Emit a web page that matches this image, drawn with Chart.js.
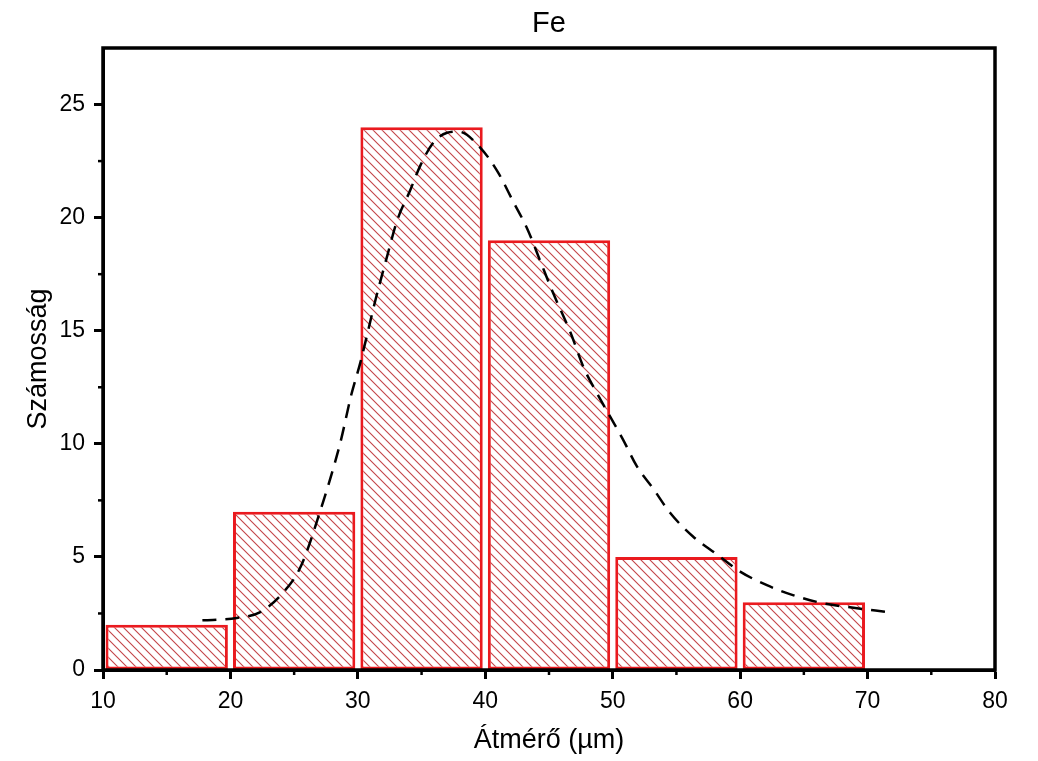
<!DOCTYPE html>
<html>
<head>
<meta charset="utf-8">
<script src="https://cdn.jsdelivr.net/npm/chart.js@4"></script>
<style>
    body { margin: 0; background: #fff; }
    #wrap { width: 1038px; height: 761px; position: relative; }
</style>
</head>
<body>
<div id="wrap"><canvas id="histChart"></canvas></div>
<script>
// Histogram bins (centres) and counts
const binCenters = [15, 25, 35, 45, 55, 65];
const counts = [2, 7, 24, 19, 5, 3];

// Fitted distribution curve
const fitX = [17.8, 19.0, 20.5, 22.3, 24.1, 25.5, 27.0, 28.6, 29.5, 30.2, 31.4, 32.3, 33.1, 34.1, 34.9, 35.9,
    37.0, 37.9, 39.6, 41.0, 42.2, 43.3, 44.3, 45.3, 46.7, 47.7, 48.8, 49.8, 50.8, 51.9, 53.2, 54.5,
    56.3, 58.2, 60.0, 62.1, 64.2, 66.5, 68.9, 71.5];
const fitY = [2.2, 2.22, 2.3, 2.55, 3.4, 4.55, 6.95, 10.0, 12.2, 13.6, 16.4, 18.3, 19.9, 21.2, 22.3, 23.3,
    23.75, 23.8, 23.1, 22.0, 20.7, 19.5, 18.1, 16.7, 14.9, 13.4, 12.2, 11.2, 10.2, 9.0, 8.0, 6.95,
    5.9, 5.1, 4.35, 3.75, 3.3, 2.95, 2.75, 2.57];

// Axis ranges and minor ticks
const xMin = 10, xMax = 80, xStep = 10;
const yMin = 0, yMax = 27.5, yStep = 5;
const xMinorTicks = [15, 25, 35, 45, 55, 65, 75];
const yMinorTicks = [2.5, 7.5, 12.5, 17.5, 22.5];
const chartTitle = 'Fe';

const FONT = "'Liberation Sans', Arial, sans-serif";

// Diagonal hatch pattern for the bars
function makeHatch() {
    const size = 9;
    const c = document.createElement('canvas');
    c.width = size;
    c.height = size;
    const g = c.getContext('2d');
    g.fillStyle = '#ffffff';
    g.fillRect(0, 0, size, size);
    g.strokeStyle = 'rgba(185, 35, 40, 0.85)';
    g.lineWidth = 1.1;
    g.beginPath();
    g.moveTo(-2, -2); g.lineTo(size + 2, size + 2);
    g.moveTo(-size - 2, -2); g.lineTo(2, size + 2);
    g.moveTo(-2, -size - 2); g.lineTo(size + 2, 2);
    g.stroke();
    return g.createPattern(c, 'repeat');
}

// Frame around the plot, short minor ticks and the title centred on the plot
const framePlugin = {
    id: 'frame',
    afterDraw(chart) {
        const { ctx, chartArea: a, scales } = chart;
        ctx.save();
        ctx.strokeStyle = '#000';
        ctx.lineWidth = 2.5;
        xMinorTicks.forEach(v => {
            const px = scales.x.getPixelForValue(v);
            ctx.beginPath();
            ctx.moveTo(px, a.bottom);
            ctx.lineTo(px, a.bottom + 5);
            ctx.stroke();
        });
        yMinorTicks.forEach(v => {
            const py = scales.y.getPixelForValue(v);
            ctx.beginPath();
            ctx.moveTo(a.left, py);
            ctx.lineTo(a.left - 5, py);
            ctx.stroke();
        });
        ctx.lineWidth = 3.5;
        ctx.strokeRect(a.left, a.top, a.right - a.left, a.bottom - a.top);

        ctx.fillStyle = '#000';
        ctx.font = '29px ' + FONT;
        ctx.textAlign = 'center';
        ctx.textBaseline = 'alphabetic';
        ctx.fillText(chartTitle, (a.left + a.right) / 2, 32);
        ctx.restore();
    }
};

const ctx = document.getElementById('histChart').getContext('2d');

const chart = new Chart(ctx, {
    type: 'bar',
    data: {
        datasets: [
            {
                type: 'line',
                data: fitX.map((x, i) => ({ x: x, y: fitY[i] })),
                borderColor: '#000',
                borderWidth: 2.5,
                borderDash: [14, 9],
                pointRadius: 0,
                fill: false,
                tension: 0.4,
                cubicInterpolationMode: 'monotone',
                order: 0
            },
            {
                type: 'bar',
                data: binCenters.map((x, i) => ({ x: x, y: counts[i] })),
                backgroundColor: makeHatch(),
                borderColor: '#ea1a1f',
                borderWidth: 3,
                borderSkipped: false,
                barPercentage: 0.96,
                categoryPercentage: 1,
                order: 1
            }
        ]
    },
    options: {
        responsive: true,
        maintainAspectRatio: false,
        animation: false,
        layout: { padding: { left: 0, right: 43, top: 48, bottom: 0 } },
        plugins: {
            legend: { display: false },
            tooltip: { enabled: false },
            title: { display: false }
        },
        scales: {
            x: {
                type: 'linear',
                offset: false,
                min: xMin,
                max: xMax,
                afterFit: s => { s.height = 91; },
                ticks: {
                    stepSize: xStep,
                    color: '#000',
                    padding: 9,
                    font: { family: FONT, size: 23 }
                },
                grid: {
                    offset: false,
                    drawOnChartArea: false,
                    tickLength: 9,
                    tickWidth: 3,
                    tickColor: '#000'
                },
                border: { color: '#000', width: 3 },
                title: {
                    display: true,
                    text: 'Átmérő (µm)',
                    color: '#000',
                    font: { family: FONT, size: 27 },
                    padding: { top: 0, bottom: 4 }
                }
            },
            y: {
                min: yMin,
                max: yMax,
                afterFit: s => { s.width = 103; },
                ticks: {
                    stepSize: yStep,
                    color: '#000',
                    padding: 9,
                    font: { family: FONT, size: 23 },
                    callback: v => (v % 5 === 0 ? v : '')
                },
                grid: {
                    drawOnChartArea: false,
                    tickLength: 9,
                    tickWidth: 3,
                    tickColor: c => (c.tick && c.tick.value % 5 === 0 ? '#000' : 'rgba(0,0,0,0)')
                },
                border: { color: '#000', width: 3 },
                title: {
                    display: true,
                    text: 'Számosság',
                    color: '#000',
                    font: { family: FONT, size: 27 },
                    padding: { top: 22, bottom: 0 }
                }
            }
        }
    },
    plugins: [framePlugin]
});
</script>
</body>
</html>
